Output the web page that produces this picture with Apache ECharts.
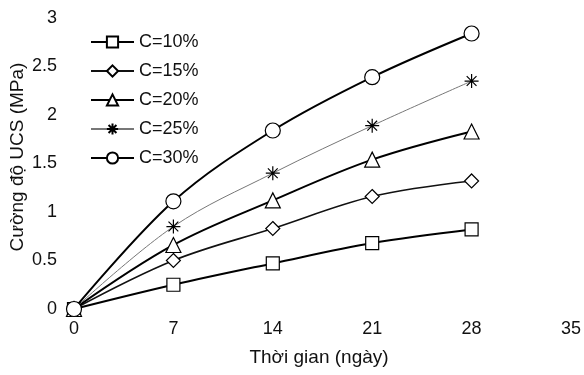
<!DOCTYPE html>
<html>
<head>
<meta charset="utf-8">
<script src="https://cdn.jsdelivr.net/npm/echarts@6/dist/echarts.min.js"></script>
<style>html,body{margin:0;padding:0;background:#fff;}#c{width:584px;height:375px;}</style>
</head>
<body>
<div id="c"></div>
<script>
const days = [0, 7, 14, 21, 28];
const c10 = [0, 0.25, 0.47, 0.68, 0.82];
const c15 = [0, 0.50, 0.83, 1.16, 1.32];
const c20 = [0, 0.66, 1.12, 1.54, 1.83];
const c25 = [0, 0.85, 1.40, 1.89, 2.35];
const c30 = [0, 1.11, 1.84, 2.39, 2.84];
const names = ['C=10%', 'C=15%', 'C=20%', 'C=25%', 'C=30%'];
const xTicks = [0, 7, 14, 21, 28, 35];
const yTicks = [0, 0.5, 1, 1.5, 2, 2.5, 3];
const xTitle = 'Thời gian (ngày)';
const yTitle = 'Cường độ UCS (MPa)';

const FONT = 'Liberation Sans, Arial, sans-serif';
const star = 'path://M0,5 L10,5 M5,0 L5,10 M1.5,1.5 L8.5,8.5 M8.5,1.5 L1.5,8.5';
const styles = [
  {symbol: 'rect', size: 13, lw: 2, lc: '#000'},
  {symbol: 'diamond', size: 14, lw: 1.6, lc: '#111'},
  {symbol: 'triangle', size: 15, lw: 2, lc: '#000'},
  {symbol: star, size: 14, lw: 1, lc: '#777'},
  {symbol: 'circle', size: 15, lw: 2, lc: '#000'}
];
const data = [c10, c15, c20, c25, c30];

const series = data.map((vals, i) => {
  const s = styles[i];
  return {
    name: names[i],
    type: 'line',
    smooth: 0.35,
    data: days.map((d, j) => [d, vals[j]]),
    symbol: s.symbol,
    symbolSize: s.size,
    showAllSymbol: true,
    lineStyle: {color: s.lc, width: s.lw},
    itemStyle: {color: i === 3 ? 'transparent' : '#fff', borderColor: '#000', borderWidth: 1.2},
    z: 5 + i
  };
});

const chart = echarts.init(document.getElementById('c'), null, {renderer: 'canvas'});
chart.setOption({
  animation: false,
  backgroundColor: '#fff',
  textStyle: {fontFamily: FONT, color: '#111'},
  grid: {left: 74, right: 12, top: 18, bottom: 66},
  legend: {
    orient: 'vertical',
    left: 85,
    top: 28,
    itemWidth: 43,
    itemHeight: 14,
    itemGap: 11,
    textStyle: {fontSize: 18, color: '#111', fontFamily: FONT},
    data: names
  },
  graphic: [
    {
      type: 'text', x: 319, y: 358,
      style: {text: xTitle, font: '19px ' + FONT, fill: '#111', textAlign: 'center', textVerticalAlign: 'middle'}
    },
    {
      type: 'text', x: 18, y: 157, rotation: Math.PI / 2,
      style: {text: yTitle, font: '19px ' + FONT, fill: '#111', textAlign: 'center', textVerticalAlign: 'middle'}
    }
  ],
  xAxis: {
    type: 'value',
    min: xTicks[0],
    max: xTicks[xTicks.length - 1],
    interval: 7,
    axisLine: {show: false},
    axisTick: {show: false},
    splitLine: {show: false},
    axisLabel: {fontSize: 18, color: '#111', margin: 11}
  },
  yAxis: {
    type: 'value',
    min: yTicks[0],
    max: yTicks[yTicks.length - 1],
    interval: 0.5,
    axisLine: {show: false},
    axisTick: {show: false},
    splitLine: {show: false},
    axisLabel: {fontSize: 18, color: '#111', margin: 17}
  },
  series: series
});
</script>
</body>
</html>
